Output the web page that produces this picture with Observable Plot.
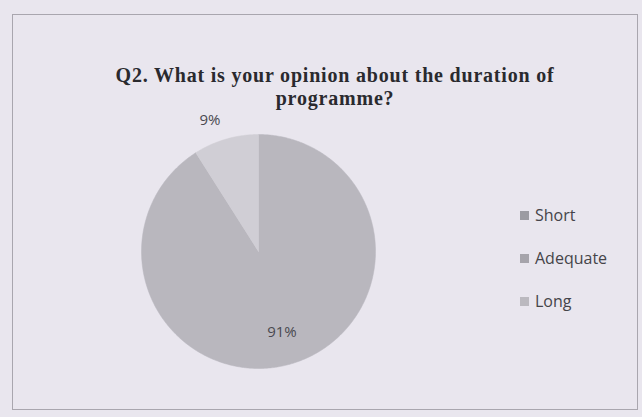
<!DOCTYPE html>
<html><head><meta charset="utf-8">
<script src="https://cdn.jsdelivr.net/npm/d3@7"></script>
<script src="https://cdn.jsdelivr.net/npm/@observablehq/plot@0.6"></script>
<style>
html,body{margin:0;padding:0;background:#e9e6ee;}
#wrap{position:relative;width:642px;height:417px;background:#e9e6ee;overflow:hidden;}
#frame{position:absolute;left:12px;top:14px;width:626px;height:396px;border:1px solid #a9a6ae;box-sizing:border-box;}
#title{position:absolute;left:35px;width:600px;top:64px;text-align:center;font-family:"Liberation Serif","DejaVu Serif",serif;font-weight:bold;font-size:20px;letter-spacing:0.8px;line-height:23px;color:#2a2a2e;}
#chart{position:absolute;left:0;top:0;}
#legend{position:absolute;left:520px;top:202px;font-family:"Open Sans","Liberation Sans",sans-serif;font-size:16px;color:#454449;}
#legend div{height:43px;line-height:26px;display:flex;align-items:flex-start;}
#legend span.sw{display:inline-block;width:9px;height:9px;margin:9px 6px 0 0;}
</style></head>
<body><div id="wrap"><div id="frame"></div><div id="title"></div><div id="chart"></div><div id="legend"></div></div>
<script>
const titleLines = ["Q2. What is your opinion about the duration of", "programme?"];
const categories = ["Short", "Adequate", "Long"];
const values = [0, 91, 9];
const labels = ["", "91%", "9%"];
const colors = ["#aeacb4", "#b9b7be", "#d0ced5"];

document.getElementById("title").innerHTML = titleLines.join("<br>");

const total = d3.sum(values);
const pts = [];
const labelPts = [];
let acc = 0;
categories.forEach((c, i) => {
  const a0 = acc / total * 2 * Math.PI;
  acc += values[i];
  const a1 = acc / total * 2 * Math.PI;
  if (values[i] <= 0) return;
  pts.push({cat: c, x: 0, y: 0});
  const n = Math.max(2, Math.ceil((a1 - a0) / 0.01));
  for (let k = 0; k <= n; k++) {
    const a = a0 + (a1 - a0) * k / n;
    pts.push({cat: c, x: Math.sin(a), y: Math.cos(a)});
  }
  pts.push({cat: c, x: 0, y: 0});
  const am = (a0 + a1) / 2;
  const rr = c === "Long" ? 1.2 : 0.72;
  labelPts.push({cat: c, label: labels[i], x: Math.sin(am) * rr - (c === "Long" ? 0.08 : 0), y: Math.cos(am) * rr - (c === "Long" ? 0.03 : 0)});
});

const cx = 258, cy = 251, r = 117;
const plot = Plot.plot({
  width: 642, height: 417,
  margin: 0,
  style: {background: "transparent"},
  x: {domain: [-1, 1], range: [cx - r, cx + r], axis: null},
  y: {domain: [-1, 1], range: [cy + r, cy - r], axis: null},
  color: {domain: categories, range: colors},
  marks: [
    Plot.line(pts, {x: "x", y: "y", z: "cat", fill: "cat", stroke: "cat", strokeWidth: 0.5, curve: "linear"}),
    Plot.text(labelPts, {x: "x", y: "y", text: "label", fill: "#4a4950", fontSize: 15, fontFamily: "Open Sans, Liberation Sans, sans-serif"})
  ]
});
document.getElementById("chart").appendChild(plot);

const leg = document.getElementById("legend");
categories.forEach((c, i) => {
  const d = document.createElement("div");
  d.innerHTML = `<span class="sw" style="background:${d3.color(colors[i]).darker(0.3)}"></span><span>${c}</span>`;
  leg.appendChild(d);
});
</script></body></html>
